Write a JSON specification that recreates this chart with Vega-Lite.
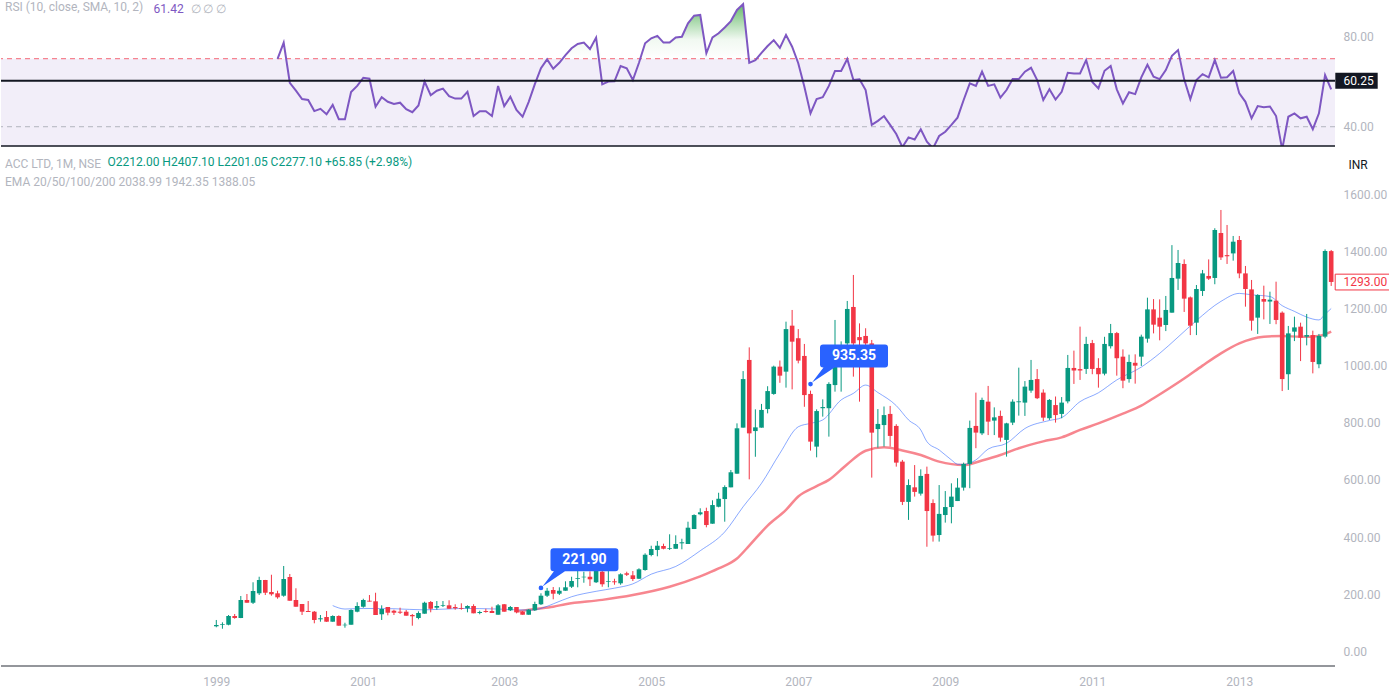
{
"$schema": "https://vega.github.io/schema/vega-lite/v6.json",
"padding": 0,
"background": "#ffffff",
"spacing": 1,
"config": {"view": {"stroke": null}, "font": "Roboto", "axis": {"labelFont": "Roboto", "titleFont": "Roboto"}, "title": {"font": "Roboto", "subtitleFont": "Roboto"}},
"resolve": {"scale": {"x": "shared"}, "axis": {"x": "independent"}},
"datasets": {
"candles": [
{"d":"1999-01","o":87.5,"h":109.6,"l":84,"c":92},
{"d":"1999-02","o":93,"h":101.5,"l":79,"c":95.6},
{"d":"1999-03","o":93,"h":127,"l":91,"c":123.6},
{"d":"1999-04","o":123.6,"h":130.6,"l":114,"c":116.6},
{"d":"1999-05","o":116.6,"h":193.6,"l":116,"c":179.6},
{"d":"1999-06","o":179.6,"h":200.6,"l":170,"c":170},
{"d":"1999-07","o":170,"h":241.6,"l":165.6,"c":211},
{"d":"1999-08","o":203,"h":261,"l":197,"c":249.6},
{"d":"1999-09","o":249.6,"h":250,"l":197,"c":205},
{"d":"1999-10","o":207.6,"h":268,"l":194.6,"c":199.6},
{"d":"1999-11","o":203,"h":212,"l":184,"c":189},
{"d":"1999-12","o":194.6,"h":298.6,"l":191,"c":253},
{"d":"2000-01","o":260,"h":270.6,"l":177,"c":177},
{"d":"2000-02","o":179.6,"h":220.6,"l":156,"c":156},
{"d":"2000-03","o":165.6,"h":165.6,"l":127,"c":138.6},
{"d":"2000-04","o":141,"h":176,"l":137.5,"c":137.5},
{"d":"2000-05","o":138.6,"h":141,"l":98,"c":109.6},
{"d":"2000-06","o":112,"h":127,"l":103.6,"c":115.5},
{"d":"2000-07","o":120,"h":141,"l":103,"c":103.6},
{"d":"2000-08","o":103.6,"h":126,"l":103.6,"c":123.6},
{"d":"2000-09","o":123.6,"h":126,"l":89.6,"c":89.6},
{"d":"2000-10","o":91,"h":100,"l":82.6,"c":93},
{"d":"2000-11","o":93,"h":147,"l":93,"c":144.6},
{"d":"2000-12","o":138.6,"h":171.6,"l":136.5,"c":158.6},
{"d":"2001-01","o":156,"h":184,"l":152.6,"c":179.6},
{"d":"2001-02","o":177,"h":197,"l":174,"c":174},
{"d":"2001-03","o":175,"h":205,"l":127,"c":127},
{"d":"2001-04","o":129.6,"h":161,"l":109.6,"c":148},
{"d":"2001-05","o":155,"h":155,"l":126,"c":135},
{"d":"2001-06","o":142,"h":145.6,"l":127,"c":135},
{"d":"2001-07","o":138.6,"h":152.6,"l":130.6,"c":135},
{"d":"2001-08","o":138.6,"h":144.6,"l":124.6,"c":124.6},
{"d":"2001-09","o":127,"h":130.6,"l":89.6,"c":122.6},
{"d":"2001-10","o":116.6,"h":140,"l":112,"c":134},
{"d":"2001-11","o":131.6,"h":173.6,"l":131.6,"c":170},
{"d":"2001-12","o":172.6,"h":176,"l":136.5,"c":149},
{"d":"2002-01","o":152.6,"h":176,"l":145.6,"c":158.6},
{"d":"2002-03","o":158.6,"h":176,"l":155,"c":161},
{"d":"2002-04","o":161,"h":178.6,"l":149,"c":149},
{"d":"2002-05","o":155,"h":164.6,"l":145.6,"c":150.6},
{"d":"2002-06","o":151.6,"h":168,"l":145.6,"c":149},
{"d":"2002-07","o":150.6,"h":161,"l":136.5,"c":158.6},
{"d":"2002-08","o":158.6,"h":164.6,"l":133,"c":133},
{"d":"2002-09","o":134,"h":142,"l":129.6,"c":137.6},
{"d":"2002-10","o":141,"h":149,"l":135,"c":137.6},
{"d":"2002-11","o":141,"h":156,"l":134,"c":134},
{"d":"2002-12","o":128,"h":165.6,"l":128,"c":161},
{"d":"2003-01","o":164.6,"h":165.6,"l":138.6,"c":138.6},
{"d":"2003-02","o":143.5,"h":158.6,"l":141,"c":155},
{"d":"2003-03","o":155,"h":155,"l":133,"c":136.5},
{"d":"2003-04","o":138.6,"h":141,"l":128,"c":128},
{"d":"2003-05","o":128,"h":148,"l":128,"c":145.6},
{"d":"2003-06","o":143.5,"h":173.6,"l":141,"c":165.6},
{"d":"2003-07","o":164.6,"h":203,"l":162,"c":194.6},
{"d":"2003-08","o":194.6,"h":221.9,"l":190,"c":212},
{"d":"2003-09","o":214.6,"h":225,"l":182,"c":201.6},
{"d":"2003-10","o":201.6,"h":224,"l":197,"c":212},
{"d":"2003-11","o":212,"h":245,"l":212,"c":224},
{"d":"2003-12","o":226,"h":261,"l":221.6,"c":246},
{"d":"2004-01","o":254,"h":302,"l":224,"c":256.6},
{"d":"2004-02","o":259,"h":278.6,"l":240,"c":261},
{"d":"2004-03","o":261,"h":280,"l":228.6,"c":252},
{"d":"2004-04","o":241.6,"h":289,"l":239,"c":281},
{"d":"2004-05","o":278.6,"h":310,"l":226,"c":234.6},
{"d":"2004-06","o":242.6,"h":281,"l":224,"c":245},
{"d":"2004-07","o":245,"h":254,"l":233,"c":241.6},
{"d":"2004-08","o":238,"h":273,"l":233,"c":269.6},
{"d":"2004-09","o":273,"h":278.6,"l":263.6,"c":268},
{"d":"2004-10","o":266,"h":281,"l":246,"c":253},
{"d":"2004-11","o":254,"h":290.6,"l":253,"c":287},
{"d":"2004-12","o":284.6,"h":343,"l":282,"c":338},
{"d":"2005-01","o":337,"h":369.6,"l":332.6,"c":358},
{"d":"2005-02","o":354.6,"h":386,"l":332.6,"c":369.6},
{"d":"2005-03","o":368.6,"h":376.7,"l":357,"c":359},
{"d":"2005-04","o":359,"h":409.6,"l":354.6,"c":361.6},
{"d":"2005-05","o":359,"h":406,"l":359,"c":375.6},
{"d":"2005-06","o":378,"h":394,"l":357,"c":381.6},
{"d":"2005-07","o":375.6,"h":453.7,"l":375.6,"c":432.7},
{"d":"2005-08","o":428,"h":479.6,"l":428,"c":477},
{"d":"2005-09","o":479.6,"h":500.6,"l":476,"c":486.6},
{"d":"2005-10","o":491,"h":502.7,"l":434,"c":442},
{"d":"2005-11","o":446.7,"h":528.6,"l":446.7,"c":512},
{"d":"2005-12","o":506,"h":555,"l":504,"c":534},
{"d":"2006-01","o":533,"h":581,"l":453.7,"c":575},
{"d":"2006-02","o":574,"h":634.7,"l":574,"c":626.7},
{"d":"2006-03","o":621.8,"h":798,"l":621.8,"c":780.7},
{"d":"2006-04","o":783,"h":981,"l":783,"c":953},
{"d":"2006-05","o":1020,"h":1064,"l":602,"c":763},
{"d":"2006-06","o":771,"h":847,"l":681,"c":784},
{"d":"2006-07","o":783,"h":866,"l":783,"c":845},
{"d":"2006-08","o":848,"h":928,"l":833,"c":911},
{"d":"2006-09","o":901,"h":1000,"l":898,"c":996.6},
{"d":"2006-10","o":996.6,"h":1018,"l":940,"c":965},
{"d":"2006-11","o":979,"h":1154,"l":923,"c":1128},
{"d":"2006-12","o":1140,"h":1195,"l":917,"c":1084},
{"d":"2007-01","o":1096,"h":1128,"l":1008,"c":1017.6},
{"d":"2007-02","o":1034,"h":1076,"l":856,"c":897},
{"d":"2007-03","o":901,"h":912.5,"l":702.5,"c":734},
{"d":"2007-04","o":716.5,"h":847,"l":679,"c":841},
{"d":"2007-05","o":851,"h":882,"l":821.5,"c":855},
{"d":"2007-06","o":851,"h":942,"l":751.5,"c":936},
{"d":"2007-07","o":932,"h":1160,"l":909,"c":1010},
{"d":"2007-08","o":1000,"h":1085,"l":909,"c":1070},
{"d":"2007-09","o":1078,"h":1226.5,"l":1070,"c":1198.5},
{"d":"2007-10","o":1205.5,"h":1317.5,"l":961.5,"c":1078},
{"d":"2007-11","o":1100,"h":1148,"l":874,"c":1089},
{"d":"2007-12","o":1104,"h":1131,"l":1050,"c":1078},
{"d":"2008-01","o":1078,"h":1090,"l":608,"c":765.5},
{"d":"2008-02","o":778,"h":848,"l":713,"c":796},
{"d":"2008-03","o":792,"h":857,"l":717,"c":827},
{"d":"2008-04","o":831,"h":859,"l":716.5,"c":754},
{"d":"2008-05","o":789,"h":795,"l":646.5,"c":660.5},
{"d":"2008-06","o":664,"h":670,"l":512,"c":523},
{"d":"2008-07","o":523,"h":602,"l":460,"c":582},
{"d":"2008-08","o":574,"h":652,"l":541.5,"c":558},
{"d":"2008-09","o":552,"h":637,"l":545,"c":614},
{"d":"2008-10","o":621,"h":646.5,"l":366,"c":491},
{"d":"2008-11","o":519,"h":532,"l":384,"c":405},
{"d":"2008-12","o":407,"h":582,"l":384,"c":481},
{"d":"2009-01","o":477,"h":561,"l":450.5,"c":505},
{"d":"2009-02","o":505,"h":588,"l":448,"c":541.5},
{"d":"2009-03","o":526,"h":606,"l":526,"c":573},
{"d":"2009-04","o":573,"h":660.5,"l":562.5,"c":656},
{"d":"2009-05","o":656,"h":807.6,"l":571,"c":782},
{"d":"2009-06","o":789,"h":905.6,"l":711,"c":765.6},
{"d":"2009-07","o":763,"h":888,"l":757,"c":880},
{"d":"2009-08","o":874,"h":929,"l":757,"c":804},
{"d":"2009-09","o":807.6,"h":854,"l":757,"c":819},
{"d":"2009-10","o":824,"h":842.6,"l":734,"c":748},
{"d":"2009-11","o":740,"h":800,"l":681.5,"c":798},
{"d":"2009-12","o":800.6,"h":882,"l":792,"c":874},
{"d":"2010-01","o":872,"h":993,"l":825,"c":875},
{"d":"2010-02","o":870.6,"h":946,"l":824,"c":926.6},
{"d":"2010-03","o":912.6,"h":1020,"l":905,"c":950},
{"d":"2010-04","o":953,"h":988,"l":883,"c":886},
{"d":"2010-05","o":905.6,"h":917,"l":806,"c":818},
{"d":"2010-06","o":816,"h":883,"l":810,"c":880},
{"d":"2010-07","o":862,"h":892,"l":800.6,"c":827},
{"d":"2010-08","o":831,"h":890,"l":816,"c":870.6},
{"d":"2010-09","o":875,"h":1037.5,"l":868,"c":992},
{"d":"2010-10","o":992,"h":1052.6,"l":936,"c":983},
{"d":"2010-11","o":988,"h":1136.6,"l":950,"c":983},
{"d":"2010-12","o":988.5,"h":1101,"l":971,"c":1076},
{"d":"2011-01","o":1079,"h":1090,"l":970,"c":988.5},
{"d":"2011-02","o":992,"h":1026,"l":923,"c":970},
{"d":"2011-03","o":972,"h":1101,"l":966,"c":1076},
{"d":"2011-04","o":1068,"h":1146,"l":1060,"c":1114},
{"d":"2011-05","o":1114,"h":1118,"l":965,"c":1026},
{"d":"2011-06","o":1031.5,"h":1057,"l":921,"c":947.5},
{"d":"2011-07","o":953,"h":1038.5,"l":940.5,"c":1013},
{"d":"2011-08","o":1010,"h":1039.7,"l":937,"c":1000},
{"d":"2011-09","o":1031.5,"h":1108.5,"l":999,"c":1101.5},
{"d":"2011-10","o":1094.5,"h":1238,"l":1080.5,"c":1197},
{"d":"2011-11","o":1197,"h":1233,"l":1113,"c":1143.5},
{"d":"2011-12","o":1168,"h":1232,"l":1088.7,"c":1136.5},
{"d":"2012-01","o":1142.4,"h":1244,"l":1121,"c":1195},
{"d":"2012-02","o":1185.5,"h":1422,"l":1185.5,"c":1307},
{"d":"2012-03","o":1304.6,"h":1405,"l":1265,"c":1359.4},
{"d":"2012-04","o":1356,"h":1372,"l":1188,"c":1234.6},
{"d":"2012-05","o":1239,"h":1242,"l":1107,"c":1140},
{"d":"2012-06","o":1150.5,"h":1282.4,"l":1107,"c":1268.4},
{"d":"2012-07","o":1261.4,"h":1335,"l":1244,"c":1323},
{"d":"2012-08","o":1314,"h":1372,"l":1300,"c":1304.6},
{"d":"2012-09","o":1307,"h":1481,"l":1285,"c":1475},
{"d":"2012-10","o":1464.5,"h":1545,"l":1370,"c":1379},
{"d":"2012-11","o":1387,"h":1492.5,"l":1356,"c":1383},
{"d":"2012-12","o":1393,"h":1454,"l":1367.6,"c":1434},
{"d":"2013-01","o":1440,"h":1454,"l":1306,"c":1323},
{"d":"2013-02","o":1323,"h":1349,"l":1206.5,"c":1268.4},
{"d":"2013-03","o":1267,"h":1300,"l":1122.5,"c":1157.5},
{"d":"2013-04","o":1168,"h":1250,"l":1111,"c":1247.4},
{"d":"2013-05","o":1233.4,"h":1280,"l":1162,"c":1224},
{"d":"2013-06","o":1224.4,"h":1259,"l":1146,"c":1231},
{"d":"2013-07","o":1227.6,"h":1294,"l":1145,"c":1160},
{"d":"2013-08","o":1185.5,"h":1190,"l":911,"c":953},
{"d":"2013-09","o":970,"h":1139,"l":915,"c":1113},
{"d":"2013-10","o":1119,"h":1171.5,"l":1086,"c":1134},
{"d":"2013-11","o":1136.5,"h":1150.5,"l":1016,"c":1098},
{"d":"2013-12","o":1101.5,"h":1181,"l":1071,"c":1107},
{"d":"2014-01","o":1107,"h":1122.5,"l":973,"c":1013},
{"d":"2014-02","o":1005,"h":1111,"l":991,"c":1104},
{"d":"2014-03","o":1101.5,"h":1407,"l":1096,"c":1401.4},
{"d":"2014-04","o":1401,"h":1405,"l":1279,"c":1293}
],
"ema20": [
{"d":"2000-08","v":160},{"d":"2000-10","v":148},{"d":"2001-01","v":150},{"d":"2001-06","v":149},{"d":"2001-11","v":145},{"d":"2002-06","v":150},{"d":"2002-12","v":148},{"d":"2003-05","v":144},{"d":"2003-07","v":150},{"d":"2003-09","v":166},{"d":"2003-12","v":191},{"d":"2004-04","v":210},{"d":"2004-07","v":221},{"d":"2004-10","v":236},{"d":"2005-01","v":270},{"d":"2005-05","v":297},{"d":"2005-09","v":352},{"d":"2006-01","v":418},{"d":"2006-04","v":506},{"d":"2006-07","v":588},{"d":"2006-10","v":693},{"d":"2007-01","v":786},{"d":"2007-03","v":798},{"d":"2007-05","v":810},{"d":"2007-08","v":880},{"d":"2007-10","v":903},{"d":"2007-12","v":932},{"d":"2008-02","v":906},{"d":"2008-05","v":860},{"d":"2008-07","v":810},{"d":"2008-09","v":775},{"d":"2008-10","v":734},{"d":"2008-12","v":705},{"d":"2009-02","v":670},{"d":"2009-03","v":655},{"d":"2009-04","v":654},{"d":"2009-06","v":670},{"d":"2009-08","v":708},{"d":"2009-11","v":728},{"d":"2010-02","v":780},{"d":"2010-06","v":808},{"d":"2010-08","v":818},{"d":"2010-11","v":874},{"d":"2011-02","v":905},{"d":"2011-05","v":950},{"d":"2011-09","v":995},{"d":"2011-12","v":1043},{"d":"2012-03","v":1100},{"d":"2012-06","v":1158},{"d":"2012-10","v":1225},{"d":"2013-01","v":1253},{"d":"2013-03","v":1248},{"d":"2013-06","v":1242},{"d":"2013-08","v":1210},{"d":"2013-10","v":1190},{"d":"2013-12","v":1170},{"d":"2014-02","v":1160},{"d":"2014-03","v":1180},{"d":"2014-04","v":1200}
],
"ema50": [
{"d":"2003-03","v":139},{"d":"2003-06","v":148},{"d":"2003-09","v":156},{"d":"2003-11","v":165},{"d":"2004-05","v":180},{"d":"2004-10","v":197},{"d":"2005-04","v":226},{"d":"2005-09","v":262},{"d":"2005-12","v":290},{"d":"2006-03","v":325},{"d":"2006-05","v":370},{"d":"2006-08","v":440},{"d":"2006-11","v":495},{"d":"2007-01","v":542},{"d":"2007-04","v":578},{"d":"2007-06","v":600},{"d":"2007-09","v":655},{"d":"2007-12","v":702},{"d":"2008-03","v":714},{"d":"2008-06","v":703},{"d":"2008-09","v":687},{"d":"2008-12","v":664},{"d":"2009-04","v":652},{"d":"2009-07","v":668},{"d":"2009-10","v":687},{"d":"2010-01","v":711},{"d":"2010-05","v":735},{"d":"2010-08","v":749},{"d":"2010-11","v":775},{"d":"2011-02","v":798},{"d":"2011-06","v":832},{"d":"2011-09","v":860},{"d":"2011-11","v":886},{"d":"2012-04","v":955},{"d":"2012-07","v":1000},{"d":"2012-10","v":1043},{"d":"2013-01","v":1078},{"d":"2013-05","v":1101},{"d":"2013-08","v":1104},{"d":"2013-11","v":1101},{"d":"2014-02","v":1104},{"d":"2014-04","v":1119}
],
"rsi": [
{"d":"1999-11","v":69.9,"ob":70},{"d":"1999-12","v":77.1,"ob":77.1},{"d":"2000-01","v":59.4,"ob":70},{"d":"2000-02","v":55.9,"ob":70},{"d":"2000-03","v":52.2,"ob":70},{"d":"2000-04","v":51.8,"ob":70},{"d":"2000-05","v":46.9,"ob":70},{"d":"2000-06","v":47.9,"ob":70},{"d":"2000-07","v":45.5,"ob":70},{"d":"2000-08","v":49.6,"ob":70},{"d":"2000-09","v":43.3,"ob":70},{"d":"2000-10","v":43.3,"ob":70},{"d":"2000-11","v":55.3,"ob":70},{"d":"2000-12","v":58,"ob":70},
{"d":"2001-01","v":61.6,"ob":70},{"d":"2001-02","v":61.2,"ob":70},{"d":"2001-03","v":48.8,"ob":70},{"d":"2001-04","v":53,"ob":70},{"d":"2001-05","v":51,"ob":70},{"d":"2001-06","v":50,"ob":70},{"d":"2001-07","v":50.6,"ob":70},{"d":"2001-08","v":47.7,"ob":70},{"d":"2001-09","v":46.4,"ob":70},{"d":"2001-10","v":49.4,"ob":70},{"d":"2001-11","v":59.9,"ob":70},{"d":"2001-12","v":53.9,"ob":70},
{"d":"2002-01","v":55.9,"ob":70},{"d":"2002-03","v":56.8,"ob":70},{"d":"2002-04","v":53.5,"ob":70},{"d":"2002-05","v":52.4,"ob":70},{"d":"2002-06","v":52.4,"ob":70},{"d":"2002-07","v":55.4,"ob":70},{"d":"2002-08","v":44.7,"ob":70},{"d":"2002-09","v":46.8,"ob":70},{"d":"2002-10","v":46.8,"ob":70},{"d":"2002-11","v":44.7,"ob":70},{"d":"2002-12","v":58,"ob":70},
{"d":"2003-01","v":49.1,"ob":70},{"d":"2003-02","v":53.2,"ob":70},{"d":"2003-03","v":47.4,"ob":70},{"d":"2003-04","v":44.4,"ob":70},{"d":"2003-05","v":51,"ob":70},{"d":"2003-06","v":58.8,"ob":70},{"d":"2003-07","v":65.8,"ob":70},{"d":"2003-08","v":69.7,"ob":70},{"d":"2003-09","v":65.6,"ob":70},{"d":"2003-10","v":68.2,"ob":70},{"d":"2003-11","v":71.6,"ob":71.6},{"d":"2003-12","v":74.6,"ob":74.6},
{"d":"2004-01","v":76.5,"ob":76.5},{"d":"2004-02","v":77.1,"ob":77.1},{"d":"2004-03","v":74.3,"ob":74.3},{"d":"2004-04","v":79.3,"ob":79.3},{"d":"2004-05","v":58.7,"ob":70},{"d":"2004-06","v":59.9,"ob":70},{"d":"2004-07","v":60,"ob":70},{"d":"2004-08","v":66.8,"ob":70},{"d":"2004-09","v":65.8,"ob":70},{"d":"2004-10","v":60.6,"ob":70},{"d":"2004-11","v":68.2,"ob":70},{"d":"2004-12","v":76.8,"ob":76.8},
{"d":"2005-01","v":79,"ob":79},{"d":"2005-02","v":80.1,"ob":80.1},{"d":"2005-03","v":77.1,"ob":77.1},{"d":"2005-04","v":77.1,"ob":77.1},{"d":"2005-05","v":79.4,"ob":79.4},{"d":"2005-06","v":79.7,"ob":79.7},{"d":"2005-07","v":85.6,"ob":85.6},{"d":"2005-08","v":89,"ob":89},{"d":"2005-09","v":89.3,"ob":89.3},{"d":"2005-10","v":72.4,"ob":72.4},{"d":"2005-11","v":79.4,"ob":79.4},{"d":"2005-12","v":81.2,"ob":81.2},
{"d":"2006-01","v":83.8,"ob":83.8},{"d":"2006-02","v":86.6,"ob":86.6},{"d":"2006-03","v":91.5,"ob":91.5},{"d":"2006-04","v":94.1,"ob":94.1},{"d":"2006-05","v":68.2,"ob":70},{"d":"2006-06","v":69.4,"ob":70},{"d":"2006-07","v":72.6,"ob":72.6},{"d":"2006-08","v":75.6,"ob":75.6},{"d":"2006-09","v":78.2,"ob":78.2},{"d":"2006-10","v":74.8,"ob":74.8},{"d":"2006-11","v":80.5,"ob":80.5},{"d":"2006-12","v":75.3,"ob":75.3},
{"d":"2007-01","v":68,"ob":70},{"d":"2007-02","v":57.6,"ob":70},{"d":"2007-03","v":45.9,"ob":70},{"d":"2007-04","v":52.2,"ob":70},{"d":"2007-05","v":53,"ob":70},{"d":"2007-06","v":58,"ob":70},{"d":"2007-07","v":64.6,"ob":70},{"d":"2007-08","v":64.6,"ob":70},{"d":"2007-09","v":69.9,"ob":70},{"d":"2007-10","v":60.6,"ob":70},{"d":"2007-11","v":60.9,"ob":70},{"d":"2007-12","v":56.2,"ob":70},
{"d":"2008-01","v":40.8,"ob":70},{"d":"2008-02","v":42.6,"ob":70},{"d":"2008-03","v":44.7,"ob":70},{"d":"2008-04","v":40.8,"ob":70},{"d":"2008-05","v":36.8,"ob":70},{"d":"2008-06","v":31,"ob":70},{"d":"2008-07","v":35.3,"ob":70},{"d":"2008-08","v":34.4,"ob":70},{"d":"2008-09","v":38.9,"ob":70},{"d":"2008-10","v":33.4,"ob":70},{"d":"2008-11","v":30.5,"ob":70},{"d":"2008-12","v":35.9,"ob":70},
{"d":"2009-01","v":37.8,"ob":70},{"d":"2009-02","v":40.8,"ob":70},{"d":"2009-03","v":44,"ob":70},{"d":"2009-04","v":51.8,"ob":70},{"d":"2009-05","v":59.1,"ob":70},{"d":"2009-06","v":58,"ob":70},{"d":"2009-07","v":64.3,"ob":70},{"d":"2009-08","v":58,"ob":70},{"d":"2009-09","v":58.7,"ob":70},{"d":"2009-10","v":52.8,"ob":70},{"d":"2009-11","v":56.2,"ob":70},{"d":"2009-12","v":61,"ob":70},
{"d":"2010-01","v":61,"ob":70},{"d":"2010-02","v":64.3,"ob":70},{"d":"2010-03","v":66,"ob":70},{"d":"2010-04","v":60.6,"ob":70},{"d":"2010-05","v":51.8,"ob":70},{"d":"2010-06","v":56.5,"ob":70},{"d":"2010-07","v":52,"ob":70},{"d":"2010-08","v":55.4,"ob":70},{"d":"2010-09","v":63.8,"ob":70},{"d":"2010-10","v":63.5,"ob":70},{"d":"2010-11","v":63.5,"ob":70},{"d":"2010-12","v":69.4,"ob":70},
{"d":"2011-01","v":59.7,"ob":70},{"d":"2011-02","v":56.9,"ob":70},{"d":"2011-03","v":64.7,"ob":70},{"d":"2011-04","v":66.8,"ob":70},{"d":"2011-05","v":56.5,"ob":70},{"d":"2011-06","v":50.3,"ob":70},{"d":"2011-07","v":55.2,"ob":70},{"d":"2011-08","v":54.4,"ob":70},{"d":"2011-09","v":61.8,"ob":70},{"d":"2011-10","v":67.3,"ob":70},{"d":"2011-11","v":62.1,"ob":70},{"d":"2011-12","v":61,"ob":70},
{"d":"2012-01","v":65,"ob":70},{"d":"2012-02","v":71.3,"ob":71.3},{"d":"2012-03","v":73.8,"ob":73.8},{"d":"2012-04","v":60.9,"ob":70},{"d":"2012-05","v":52.2,"ob":70},{"d":"2012-06","v":60.6,"ob":70},{"d":"2012-07","v":63.2,"ob":70},{"d":"2012-08","v":61.8,"ob":70},{"d":"2012-09","v":69.4,"ob":70},{"d":"2012-10","v":61.6,"ob":70},{"d":"2012-11","v":61.8,"ob":70},{"d":"2012-12","v":64.6,"ob":70},
{"d":"2013-01","v":54.7,"ob":70},{"d":"2013-02","v":51,"ob":70},{"d":"2013-03","v":43.7,"ob":70},{"d":"2013-04","v":49.1,"ob":70},{"d":"2013-05","v":48.6,"ob":70},{"d":"2013-06","v":48.9,"ob":70},{"d":"2013-07","v":44.7,"ob":70},{"d":"2013-08","v":30,"ob":70},{"d":"2013-09","v":44.4,"ob":70},{"d":"2013-10","v":45.9,"ob":70},{"d":"2013-11","v":43.7,"ob":70},{"d":"2013-12","v":44.4,"ob":70},
{"d":"2014-01","v":38.9,"ob":70},{"d":"2014-02","v":45.9,"ob":70},{"d":"2014-03","v":62.8,"ob":70},{"d":"2014-04","v":56.5,"ob":70}
],
"notes": [
{"d":"2003-07","v":221.9,"t":"221.90"},
{"d":"2007-03","v":935.35,"t":"935.35"}
]
},
"vconcat": [
{
"width": 1334,
"height": 146,
"title": {"text": "RSI (10, close, SMA, 10, 2)", "anchor": "start", "frame": "group", "orient": "top", "offset": -14, "dx": 4, "fontSize": 12, "fontWeight": "normal", "color": "#B2B5BE"},
"layer": [
{"data": {"values": [{}]}, "mark": {"type": "rect", "color": "#7E57C2", "opacity": 0.1, "clip": true},
 "encoding": {
  "y": {"datum": 70, "type": "quantitative", "scale": {"domain": [31.5, 95.9], "nice": false, "zero": false},
   "axis": {"orient": "right", "values": [40, 60.25, 80], "format": ".2f", "grid": false, "domain": false, "ticks": false, "tickSize": 0, "labelPadding": 8, "labelFontSize": 12,
    "labelColor": {"condition": {"test": "datum.value == 60.25", "value": "#FFFFFF"}, "value": "#B2B5BE"}, "zindex": 1,
    "title": "∅ ∅ ∅", "titleAngle": 0, "titleX": -1145, "titleY": 8, "titleAlign": "left", "titleBaseline": "middle", "titleColor": "#B2B5BE", "titleFontSize": 12, "titleFontWeight": "normal"}},
  "y2": {"datum": 30}}},
{"data": {"values": [{}]}, "mark": {"type": "rule", "color": "#F23645", "strokeDash": [5, 4], "strokeWidth": 1, "opacity": 0.75},
 "encoding": {"y": {"datum": 70, "type": "quantitative"}}},
{"data": {"values": [{}]}, "mark": {"type": "rule", "color": "#B2B5BE", "strokeDash": [5, 4], "strokeWidth": 1},
 "encoding": {"y": {"datum": 40, "type": "quantitative"}}},
{"data": {"name": "rsi"}, "mark": {"type": "area", "clip": true, "color": {"gradient": "linear", "x1": 0, "y1": 1, "x2": 0, "y2": 0, "stops": [{"offset": 0, "color": "rgba(76,175,80,0)"}, {"offset": 0.35, "color": "rgba(76,175,80,0.08)"}, {"offset": 1, "color": "rgba(76,175,80,0.85)"}]}},
 "encoding": {
  "x": {"field": "d", "type": "ordinal", "scale": {"type": "point", "range": [215.3, 1330.2], "padding": 0},
   "axis": {"orient": "bottom", "labels": false, "ticks": false, "domain": false, "grid": false,
    "title": "61.42", "titleX": 152, "titleY": -138, "titleAlign": "left", "titleBaseline": "middle", "titleColor": "#7E57C2", "titleFontSize": 12, "titleFontWeight": "normal"}},
  "y": {"field": "ob", "type": "quantitative"},
  "y2": {"datum": 70}}},
{"data": {"name": "rsi"}, "mark": {"type": "line", "color": "#7E57C2", "strokeWidth": 2, "clip": true},
 "encoding": {"x": {"field": "d", "type": "ordinal"}, "y": {"field": "v", "type": "quantitative"}}},
{"data": {"values": [{}]}, "mark": {"type": "rule", "color": "#131722", "strokeWidth": 2},
 "encoding": {"y": {"datum": 60.25, "type": "quantitative"}}},
{"data": {"values": [{}]}, "mark": {"type": "rule", "color": "#131722", "strokeWidth": 1.5},
 "encoding": {"y": {"datum": 31.5, "type": "quantitative"}}},
{"data": {"values": [{"d": "2014-04", "v": 60.25}]}, "mark": {"type": "point", "shape": "M0.41,-0.8H4.65V0.8H0.41Z", "size": 400, "filled": true, "color": "#131722", "opacity": 1, "strokeWidth": 0},
 "encoding": {"x": {"field": "d", "type": "ordinal"}, "y": {"field": "v", "type": "quantitative"}}}
]
},
{
"width": 1334,
"height": 518,
"title": {"text": "ACC LTD, 1M, NSE", "subtitle": "EMA 20/50/100/200  2038.99  1942.35  1388.05", "anchor": "start", "frame": "group", "orient": "top", "offset": -41, "dx": 4, "fontSize": 12, "fontWeight": "normal", "color": "#B2B5BE", "subtitleColor": "#B2B5BE", "subtitleFontSize": 12, "subtitlePadding": 6},
"layer": [
{"data": {"name": "ema50"}, "mark": {"type": "line", "color": "#F23645", "opacity": 0.6, "strokeWidth": 2.5, "interpolate": "monotone"},
 "encoding": {
  "x": {"field": "d", "type": "ordinal", "scale": {"type": "point", "range": [215.3, 1330.2], "padding": 0},
   "axis": {"orient": "bottom", "values": ["1999-01", "2001-01", "2003-01", "2005-01", "2007-01", "2009-01", "2011-01", "2013-01"], "labelExpr": "slice(datum.label, 0, 4)", "labelAngle": 0, "labelColor": "#B2B5BE", "labelFontSize": 12, "labelPadding": 10, "ticks": false, "domain": false, "grid": false,
    "title": "O2212.00  H2407.10  L2201.05  C2277.10  +65.85 (+2.98%)", "titleX": 106, "titleY": -504.5, "titleAlign": "left", "titleBaseline": "middle", "titleColor": "#089981", "titleFontSize": 12, "titleFontWeight": "normal"}},
  "y": {"field": "v", "type": "quantitative", "scale": {"domain": [-51.5, 1762], "nice": false, "zero": false},
   "axis": {"orient": "right", "values": [0, 200, 400, 600, 800, 1000, 1200, 1293, 1400, 1600], "format": ".2f", "grid": false, "domain": false, "ticks": false, "tickSize": 0, "labelPadding": 8, "labelFontSize": 12,
    "labelColor": {"condition": {"test": "datum.value == 1293", "value": "#F23645"}, "value": "#B2B5BE"}, "zindex": 1,
    "title": "INR", "titleAngle": 0, "titleX": 13, "titleY": 16, "titleAlign": "left", "titleBaseline": "middle", "titleColor": "#131722", "titleFontSize": 12, "titleFontWeight": "normal"}}}},
{"data": {"name": "ema20"}, "mark": {"type": "line", "color": "#2962FF", "opacity": 0.55, "strokeWidth": 1, "interpolate": "monotone"},
 "encoding": {"x": {"field": "d", "type": "ordinal"}, "y": {"field": "v", "type": "quantitative"}}},
{"data": {"values": [{}]}, "mark": {"type": "rule", "color": "#2A2E39", "strokeWidth": 1.2},
 "encoding": {"y": {"datum": -51.5, "type": "quantitative"}}},
{"data": {"name": "candles"}, "mark": {"type": "rule", "strokeWidth": 1},
 "encoding": {"x": {"field": "d", "type": "ordinal"}, "y": {"field": "l", "type": "quantitative"}, "y2": {"field": "h"},
  "color": {"condition": {"test": "datum.c >= datum.o", "value": "#089981"}, "value": "#F23645"}}},
{"data": {"name": "candles"}, "mark": {"type": "bar", "size": 4.6},
 "encoding": {"x": {"field": "d", "type": "ordinal"}, "y": {"field": "o", "type": "quantitative"}, "y2": {"field": "c"},
  "color": {"condition": {"test": "datum.c >= datum.o", "value": "#089981"}, "value": "#F23645"}}},
{"data": {"name": "notes"}, "mark": {"type": "point", "shape": "M1.25,-3.97H7.45Q7.75,-3.97,7.75,-3.67V-1.97Q7.75,-1.67,7.45,-1.67H2.4L0.15,-0.15L1.3,-1.67H1.25Q0.95,-1.67,0.95,-1.97V-3.67Q0.95,-3.97,1.25,-3.97Z", "size": 400, "filled": true, "color": "#2962FF", "opacity": 1, "strokeWidth": 0},
 "encoding": {"x": {"field": "d", "type": "ordinal"}, "y": {"field": "v", "type": "quantitative"}}},
{"data": {"name": "notes"}, "mark": {"type": "point", "shape": "circle", "size": 22, "filled": true, "color": "#2962FF", "opacity": 1},
 "encoding": {"x": {"field": "d", "type": "ordinal"}, "y": {"field": "v", "type": "quantitative"}}},
{"data": {"name": "notes"}, "mark": {"type": "text", "color": "#FFFFFF", "fontSize": 14, "fontWeight": "bold", "align": "center", "baseline": "middle", "dx": 43.5, "dy": -28.2},
 "encoding": {"x": {"field": "d", "type": "ordinal"}, "y": {"field": "v", "type": "quantitative"}, "text": {"field": "t"}}},
{"data": {"values": [{"d": "2014-04", "v": 1293}]}, "mark": {"type": "point", "shape": "M0.4,-0.78H5.85V0.8H0.4Z", "size": 400, "filled": true, "color": "#FFFFFF", "stroke": "#F23645", "strokeWidth": 1, "opacity": 1},
 "encoding": {"x": {"field": "d", "type": "ordinal"}, "y": {"field": "v", "type": "quantitative"}}}
]
}
]
}
